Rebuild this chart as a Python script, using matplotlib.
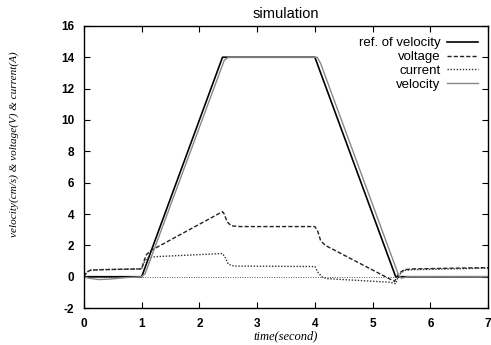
import matplotlib
matplotlib.use("Agg")
import matplotlib.pyplot as plt

# reference velocity profile (trapezoid)
t_ref = [0.0, 1.0, 2.4, 4.0, 5.4, 7.0]
ref_vel = [0.0, 0.0, 14.0, 14.0, 0.0, 0.0]

# input voltage
t_volt = [0.0, 0.05, 0.12, 0.3, 1.0, 1.03, 1.08, 1.15, 1.25, 2.4, 2.43, 2.48,
          2.55, 2.7, 4.0, 4.05, 4.1, 4.18, 5.38, 5.45, 5.55, 5.7, 7.0]
volt = [0.0, 0.3, 0.42, 0.45, 0.5, 0.9, 1.4, 1.65, 1.85, 4.15, 4.0, 3.5,
        3.25, 3.2, 3.2, 2.9, 2.3, 2.0, -0.3, 0.2, 0.45, 0.5, 0.58]

# motor current
t_cur = [0.0, 0.05, 0.12, 0.3, 1.0, 1.04, 1.1, 1.25, 2.4, 2.45, 2.5, 2.6,
         4.0, 4.05, 4.12, 4.2, 5.3, 5.4, 5.45, 5.55, 5.7, 7.0]
cur = [0.0, 0.3, 0.42, 0.45, 0.5, 0.9, 1.2, 1.28, 1.48, 1.2, 0.8, 0.68,
       0.65, 0.3, 0.0, -0.12, -0.35, -0.45, 0.1, 0.4, 0.45, 0.55]

# measured velocity
t_vel = [0.0, 0.1, 0.25, 0.45, 0.7, 1.0, 1.06, 2.43, 2.5, 4.04, 4.1, 5.45,
         5.5, 5.6, 7.0]
vel = [0.0, -0.1, -0.18, -0.15, -0.06, 0.0, 0.2, 13.8, 14.0, 14.0, 13.6, 0.1,
       -0.1, 0.0, 0.0]

x_ticks = [0, 1, 2, 3, 4, 5, 6, 7]
y_ticks = [-2, 0, 2, 4, 6, 8, 10, 12, 14, 16]

plt.rcParams['font.family'] = ['Liberation Sans', 'DejaVu Sans']
plt.rcParams['axes.unicode_minus'] = False

fig = plt.figure(figsize=(4.91, 3.45), dpi=100)
ax = fig.add_axes([0.171, 0.107, 0.823, 0.818])

ax.axhline(0, color='#555555', lw=0.7, ls=(0, (1, 1.5)))
ax.plot(t_ref, ref_vel, color='black', lw=1.2, label='ref. of velocity')
ax.plot(t_volt, volt, color='#222222', lw=1.0, ls=(0, (3, 1.5)), label='voltage')
ax.plot(t_cur, cur, color='#333333', lw=1.0, ls=(0, (1, 1.2)), label='current')
ax.plot(t_vel, vel, color='#888888', lw=1.0, label='velocity')

ax.set_xlim(0, 7)
ax.set_ylim(-2, 16)
ax.set_xticks(x_ticks)
ax.set_yticks(y_ticks)
ax.tick_params(direction='in', length=4, width=0.8, top=True, right=True,
               labelsize=8.5, pad=7)
for lab in ax.get_xticklabels() + ax.get_yticklabels():
    lab.set_fontweight('bold')
for s in ax.spines.values():
    s.set_linewidth(1.0)

ax.set_title('simulation', fontsize=10.5, pad=6)
ax.set_xlabel('time(second)', family='Liberation Serif', style='italic',
              fontsize=9, labelpad=0)
ax.set_ylabel('velocity(cm/s) & voltage(V) & current(A)',
              family='Liberation Serif', style='italic', fontsize=8)
ax.yaxis.set_label_coords(-0.16, 0.58)

ax.legend(loc='upper right', frameon=False, markerfirst=False, fontsize=9.5,
          handlelength=2.3, handletextpad=0.5, labelspacing=0.12,
          borderaxespad=0.3, bbox_to_anchor=(0.997, 0.993))

fig.savefig('out.png', dpi=100)
